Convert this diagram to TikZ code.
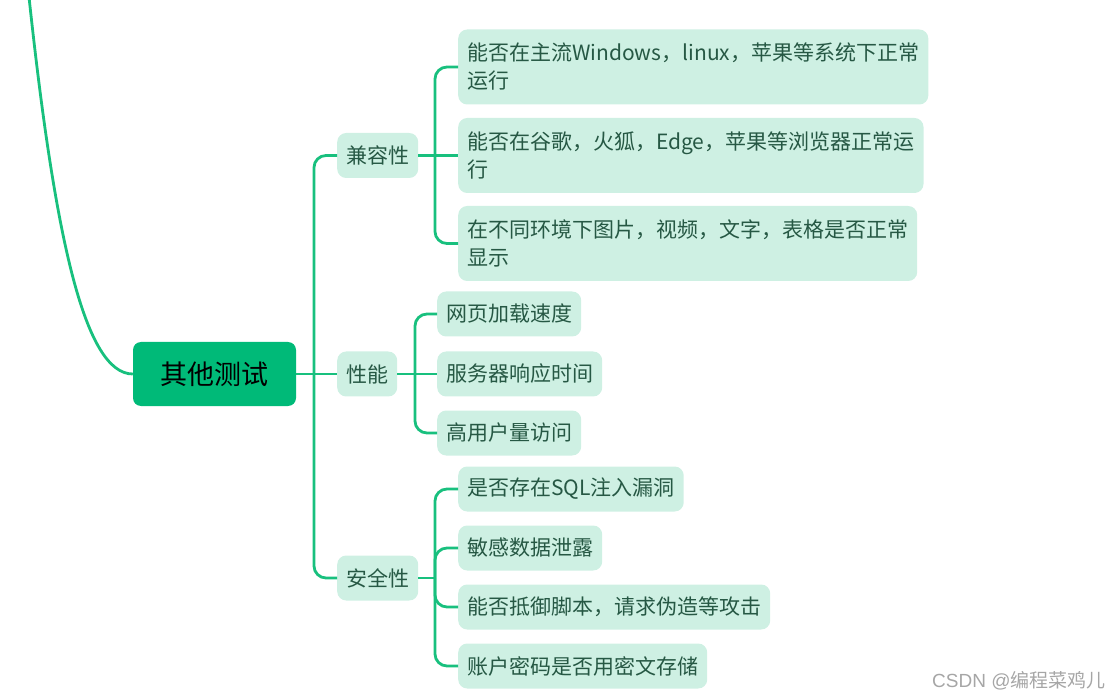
\documentclass[tikz,border=0pt]{standalone}
\usepackage{fontspec}
\setmainfont{Noto Sans CJK SC}
\newfontfamily\latinfont{Liberation Sans}
\usetikzlibrary{positioning}
\definecolor{mapgreen}{RGB}{0,186,120}
\definecolor{linkgreen}{RGB}{24,192,126}
\definecolor{leafgreen}{RGB}{206,240,227}
\definecolor{leaftext}{RGB}{38,88,68}

\begin{document}
\begin{tikzpicture}[
  x=1pt, y=-1pt,
  root/.style={fill=mapgreen, rounded corners=8pt, minimum width=163pt,
               minimum height=64pt, font=\fontsize{27}{32}\selectfont, text=black},
  branch/.style={fill=leafgreen, rounded corners=9pt, minimum height=45pt,
                 inner xsep=9pt, font=\fontsize{21}{28}\selectfont,
                 text=leaftext, anchor=west},
  leaf/.style={branch, align=left},
  tall/.style={minimum height=75pt},
  link/.style={draw=linkgreen, line width=2.8pt, rounded corners=12pt}
]
\useasboundingbox (0,0) rectangle (1119,700);
% root and incoming curve
\node[root] (root) at (214.5,374) {其他测试};
\coordinate (origin) at (29,-3);
\draw[link] (origin) .. controls (55,240) and (85,374) .. (root.west);
% branches
\node[branch] (compat) at (337,155.5) {兼容性};
\node[branch] (perf) at (337,374) {性能};
\node[branch] (sec) at (337,578) {安全性};
\coordinate (trunk) at (314,374);
\draw[link] (root.east) -- (perf.west);
\draw[link] (compat.west) -| (trunk) |- (sec.west);
% compatibility leaves
\node[leaf, tall] (c1) at (458,67) {能否在主流Windows，linux，苹果等系统下正常\\运行};
\node[leaf, tall] (c2) at (458,155.5) {能否在谷歌，火狐，Edge，苹果等浏览器正常运\\行};
\node[leaf, tall] (c3) at (458,243.5) {在不同环境下图片，视频，文字，表格是否正常\\显示};
\coordinate (cj) at (435,155.5);
\draw[link] (compat.east) -- (c2.west);
\draw[link] (c1.west) -| (cj) |- (c3.west);
% performance leaves
\node[leaf] (p1) at (437,314) {网页加载速度};
\node[leaf] (p2) at (437,374) {服务器响应时间};
\node[leaf] (p3) at (437,433) {高用户量访问};
\coordinate (pj) at (415,374);
\draw[link] (perf.east) -- (p2.west);
\draw[link] (p1.west) -| (pj) |- (p3.west);
% security leaves
\node[leaf] (s1) at (458,489) {是否存在SQL注入漏洞};
\node[leaf] (s2) at (458,548) {敏感数据泄露};
\node[leaf] (s3) at (458,607) {能否抵御脚本，请求伪造等攻击};
\node[leaf] (s4) at (458,666) {账户密码是否用密文存储};
\coordinate (sj) at (435,578);
\draw[link] (sec.east) -- (sj);
\draw[link] (s1.west) -| (sj) |- (s4.west);
\draw[link] (s2.west) -| (sj);
\draw[link] (s3.west) -| (sj);
% watermark
\node[anchor=west, text=gray!70, font=\fontsize{19}{22}\selectfont, inner sep=0pt]
  (credit) at (932,681) {{\latinfont CSDN @}编程菜鸡儿};
\end{tikzpicture}
\end{document}
